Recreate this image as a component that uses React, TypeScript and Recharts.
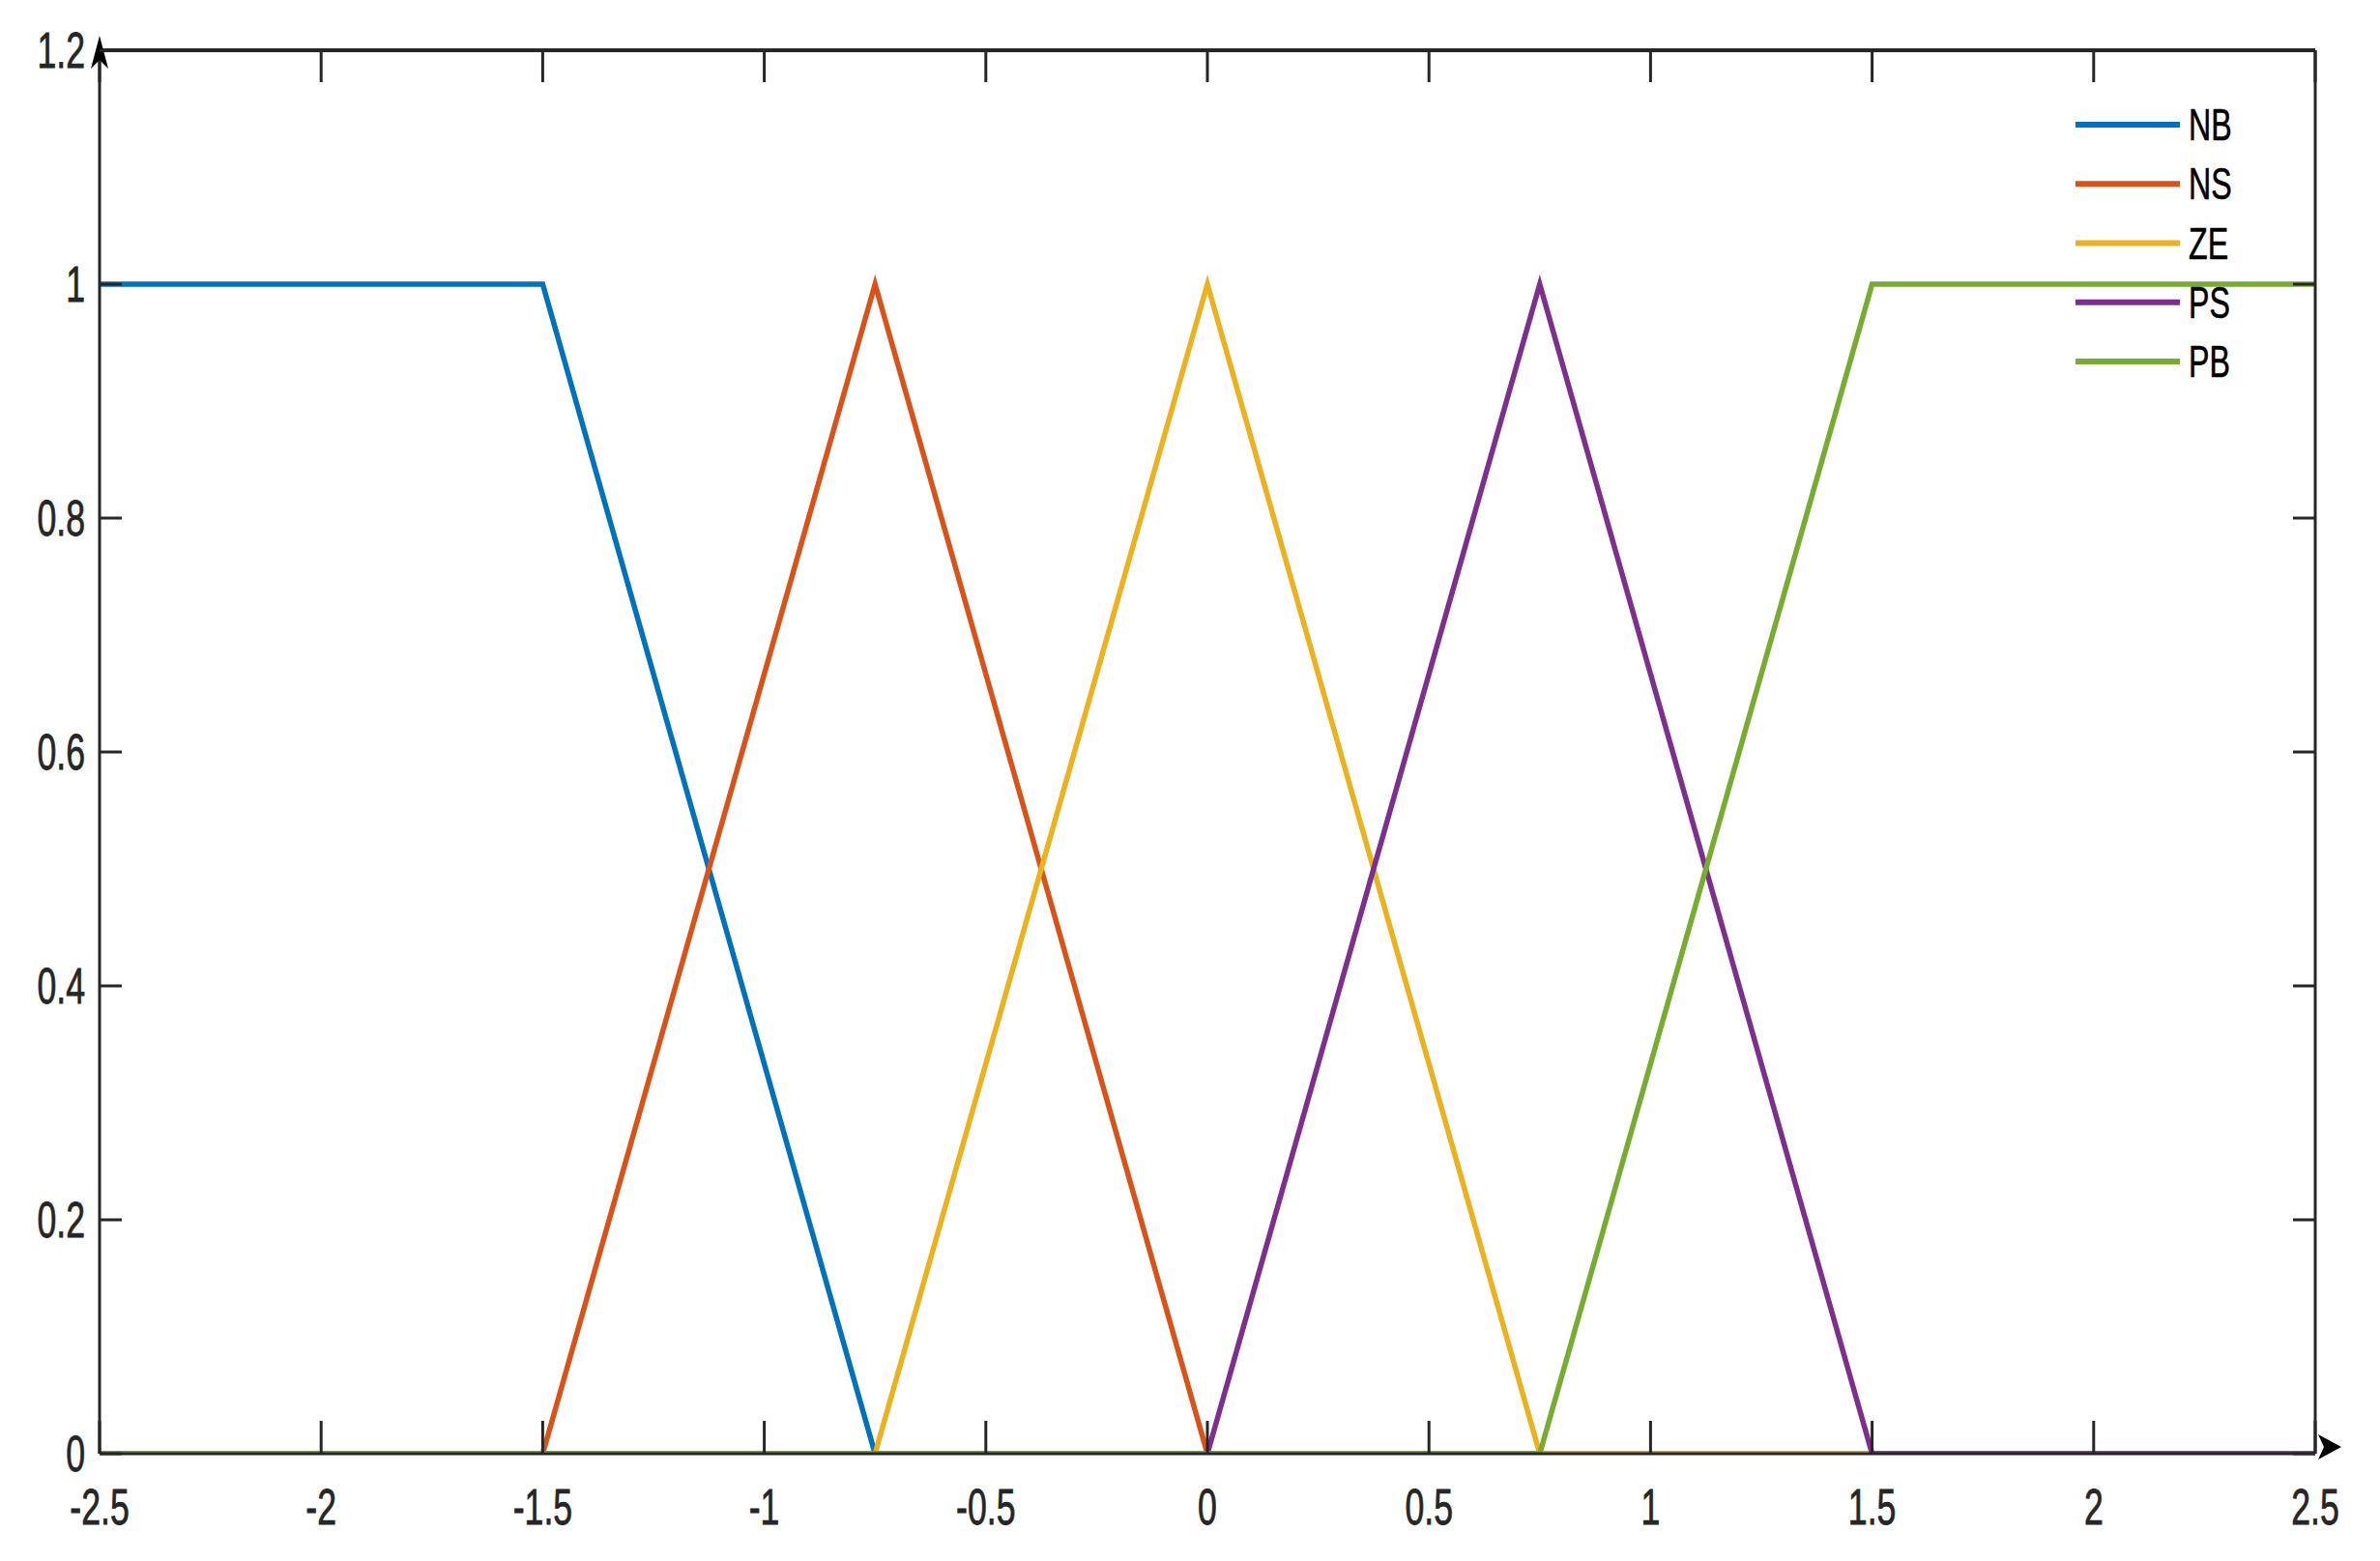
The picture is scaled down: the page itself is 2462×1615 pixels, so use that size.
import React from 'react';
import { LineChart, Line, XAxis, YAxis, Legend } from 'recharts';

// membership function break points (x) and grades (y)
const nbX = [-2.5, -1.5, -0.75, 2.5];
const nbY = [1, 1, 0, 0];
const nsX = [-2.5, -1.5, -0.75, 0, 2.5];
const nsY = [0, 0, 1, 0, 0];
const zeX = [-2.5, -0.75, 0, 0.75, 2.5];
const zeY = [0, 0, 1, 0, 0];
const psX = [-2.5, 0, 0.75, 1.5, 2.5];
const psY = [0, 0, 1, 0, 0];
const pbX = [-2.5, 0.75, 1.5, 2.5];
const pbY = [0, 0, 1, 1];

const seriesNames = ['NB', 'NS', 'ZE', 'PS', 'PB'];
const seriesColors = ['#0072BD', '#D95319', '#EDB120', '#7E2F8E', '#77AC30'];

const xTicks = [-2.5, -2, -1.5, -1, -0.5, 0, 0.5, 1, 1.5, 2, 2.5];
const yTicks = [0, 0.2, 0.4, 0.6, 0.8, 1, 1.2];

const toPoints = (xs: number[], ys: number[]) => xs.map((x, i) => ({ x, y: ys[i] }));

const series = [
    toPoints(nbX, nbY),
    toPoints(nsX, nsY),
    toPoints(zeX, zeY),
    toPoints(psX, psY),
    toPoints(pbX, pbY),
];

const AXIS = '#262626';
const FONT = 'Arial, "Liberation Sans", sans-serif';

const BottomTick = (props: any) => {
    const { x, y, payload } = props;
    return (
        <g>
            <line x1={x} y1={y} x2={x} y2={y - 34} stroke={AXIS} strokeWidth={3} />
            <text
                transform={`translate(${x},${y + 73}) scale(0.7,1)`}
                textAnchor="middle"
                fontSize={51}
                fontFamily={FONT}
                fill={AXIS}
                stroke={AXIS}
                strokeWidth={0.8}
            >
                {String(payload.value)}
            </text>
        </g>
    );
};

const LeftTick = (props: any) => {
    const { x, y, payload } = props;
    return (
        <g>
            <line x1={x} y1={y} x2={x + 23} y2={y} stroke={AXIS} strokeWidth={3} />
            <text
                transform={`translate(${x - 15},${y + 18}) scale(0.7,1)`}
                textAnchor="end"
                fontSize={51}
                fontFamily={FONT}
                fill={AXIS}
                stroke={AXIS}
                strokeWidth={0.8}
            >
                {String(payload.value)}
            </text>
        </g>
    );
};

const NoTick = () => <g />;

const LegendBox = (props: any) => {
    const items = [...(props.payload || [])].sort(
        (a: any, b: any) => seriesNames.indexOf(a.value) - seriesNames.indexOf(b.value)
    );
    return (
        <svg width={220} height={320} style={{ overflow: 'visible' }}>
            {items.map((entry: any, i: number) => {
                const cy = 29 + i * 61.25;
                return (
                    <g key={entry.value}>
                        <line x1={7} y1={cy} x2={115} y2={cy} stroke={entry.color} strokeWidth={6} />
                        <text
                            transform={`translate(124,${cy + 16}) scale(0.7,1)`}
                            fontSize={46}
                            fontFamily={FONT}
                            fill="#000"
                            stroke="#000"
                            strokeWidth={0.6}
                        >
                            {entry.value}
                        </text>
                    </g>
                );
            })}
        </svg>
    );
};

export default function App() {
    return (
        <div style={{ position: 'absolute', left: 0, top: 0, width: 2462, height: 1615, background: '#fff' }}>
            <svg width={0} height={0} style={{ position: 'absolute' }}>
                <defs>
                    <marker id="arrowUp" markerUnits="userSpaceOnUse" markerWidth={80} markerHeight={80}
                        refX={0} refY={0} orient="auto-start-reverse" overflow="visible">
                        <path d="M 15 0 L -19 -9 L -10 0 L -19 9 Z" fill="#000" />
                    </marker>
                    <marker id="arrowRight" markerUnits="userSpaceOnUse" markerWidth={80} markerHeight={80}
                        refX={0} refY={0} orient="auto" overflow="visible">
                        <path d="M 27 -7 L 3 -20 L 9 -7 L 3 6 Z" fill="#000" />
                    </marker>
                </defs>
            </svg>
            <LineChart width={2462} height={1615} margin={{ top: 52, right: 67, left: 0, bottom: 0 }}>
                <XAxis
                    xAxisId="bottom"
                    dataKey="x"
                    type="number"
                    domain={[-2.5, 2.5]}
                    ticks={xTicks}
                    interval={0}
                    height={111}
                    tickSize={0}
                    tickMargin={0}
                    tickLine={false}
                    tick={<BottomTick />}
                    axisLine={{ stroke: AXIS, strokeWidth: 3, markerEnd: 'url(#arrowRight)' }}
                    allowDataOverflow
                />
                <XAxis
                    xAxisId="top"
                    orientation="top"
                    mirror
                    dataKey="x"
                    type="number"
                    domain={[-2.5, 2.5]}
                    ticks={xTicks}
                    interval={0}
                    tickSize={33}
                    tickLine={{ stroke: AXIS, strokeWidth: 3 }}
                    tick={<NoTick />}
                    axisLine={{ stroke: AXIS, strokeWidth: 4 }}
                    allowDataOverflow
                />
                <YAxis
                    yAxisId="left"
                    type="number"
                    domain={[0, 1.2]}
                    ticks={yTicks}
                    interval={0}
                    width={103}
                    tickSize={0}
                    tickMargin={0}
                    tickLine={false}
                    tick={<LeftTick />}
                    axisLine={{ stroke: AXIS, strokeWidth: 3, markerStart: 'url(#arrowUp)' }}
                    allowDataOverflow
                />
                <YAxis
                    yAxisId="right"
                    orientation="right"
                    mirror
                    type="number"
                    domain={[0, 1.2]}
                    ticks={yTicks}
                    interval={0}
                    tickSize={23}
                    tickLine={{ stroke: AXIS, strokeWidth: 3 }}
                    tick={<NoTick />}
                    axisLine={{ stroke: AXIS, strokeWidth: 3 }}
                    allowDataOverflow
                />
                <Legend
                    layout="horizontal"
                    verticalAlign="middle"
                    align="center"
                    content={<LegendBox />}
                    wrapperStyle={{ left: 2140, top: 100, width: 220, height: 320 }}
                />
                {series.map((data, i) => (
                    <Line
                        key={seriesNames[i]}
                        data={data}
                        dataKey="y"
                        name={seriesNames[i]}
                        xAxisId="bottom"
                        yAxisId="left"
                        type="linear"
                        stroke={seriesColors[i]}
                        strokeWidth={5.5}
                        strokeLinejoin="miter"
                        dot={false}
                        activeDot={false}
                        isAnimationActive={false}
                    />
                ))}
            </LineChart>
        </div>
    );
}
